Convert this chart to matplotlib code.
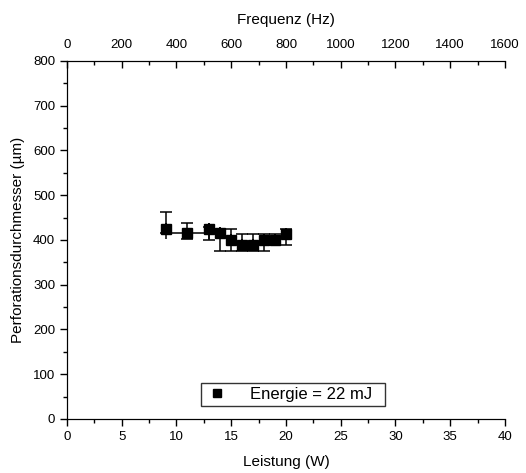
import matplotlib
matplotlib.use("Agg")
import matplotlib.pyplot as plt
from matplotlib.lines import Line2D
from matplotlib.ticker import MultipleLocator

plt.rcParams["font.family"] = ["Liberation Sans", "DejaVu Sans"]

# Leistung (W) und Perforationsdurchmesser (µm)
leistung = [9, 11, 13, 14, 15, 16, 17, 18, 19, 20]
durchmesser = [425, 415, 425, 415, 401, 389, 389, 401, 401, 413]
fehler_oben = [37, 23, 5, 10, 24, 24, 24, 12, 12, 12]
fehler_unten = [10, 13, 24, 39, 25, 13, 13, 25, 12, 24]
fehler_x = [0, 2, 0, 0, 0, 0, 0, 0, 0, 0]

fig = plt.figure(figsize=(5.26, 4.73), dpi=100)
ax = fig.add_axes([0.1274, 0.1142, 0.8326, 0.7569])

ax.errorbar(leistung, durchmesser, yerr=[fehler_unten, fehler_oben], xerr=fehler_x,
            fmt="s", color="black", ms=7, elinewidth=1.1, capsize=4.3, capthick=1.1)

ax.set_xlim(0, 40)
ax.set_ylim(0, 800)
ax.xaxis.set_major_locator(MultipleLocator(5))
ax.xaxis.set_minor_locator(MultipleLocator(2.5))
ax.yaxis.set_major_locator(MultipleLocator(100))
ax.yaxis.set_minor_locator(MultipleLocator(50))
ax.tick_params(which="major", direction="out", length=5, width=1, labelsize=9.5)
ax.tick_params(which="minor", direction="out", length=3, width=1)
ax.spines["right"].set_visible(False)
ax.set_xlabel("Leistung (W)", fontsize=11, labelpad=9)
ax.set_ylabel("Perforationsdurchmesser (µm)", fontsize=11, labelpad=6)

# obere Achse: Frequenz
top = ax.twiny()
top.set_xlim(0, 1600)
top.xaxis.set_major_locator(MultipleLocator(200))
top.xaxis.set_minor_locator(MultipleLocator(100))
top.tick_params(which="major", direction="in", length=5, width=1, labelsize=9.5, pad=7)
top.tick_params(which="minor", direction="in", length=3, width=1)
top.spines["right"].set_visible(False)
top.set_xlabel("Frequenz (Hz)", fontsize=11, labelpad=11)

handle = Line2D([], [], marker="s", color="black", linestyle="none", ms=6)
leg = ax.legend([handle], ["Energie = 22 mJ"], loc="lower center",
                bbox_to_anchor=(0.516, 0.035), fontsize=12, frameon=True,
                fancybox=False, edgecolor="black", handlelength=1.5,
                handletextpad=1.2, borderpad=0.25, borderaxespad=0)
leg.get_frame().set_linewidth(1)
# rechten Rand der Legende etwas verbreitern
leg._legend_box.sep = 0
leg.get_texts()[0].set_text("Energie = 22 mJ  ")

fig.savefig("out.png", dpi=100)
